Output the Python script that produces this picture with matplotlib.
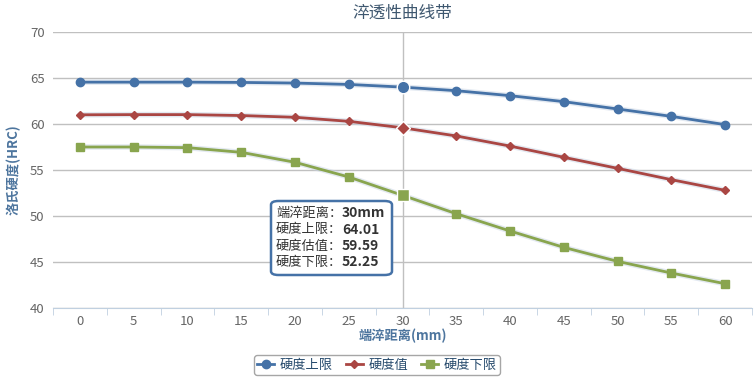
import numpy as np
import matplotlib.pyplot as plt
from matplotlib.patches import FancyBboxPatch
from matplotlib.lines import Line2D

plt.rcParams['font.family'] = ['Noto Sans CJK SC', 'DejaVu Sans']

# données
dist = [0, 5, 10, 15, 20, 25, 30, 35, 40, 45, 50, 55, 60]
haut = [64.55, 64.55, 64.55, 64.52, 64.45, 64.3, 64.01, 63.62, 63.08, 62.43, 61.63, 60.83, 59.93]
moyen = [61.0, 61.02, 61.02, 60.92, 60.73, 60.29, 59.59, 58.7, 57.6, 56.38, 55.18, 53.95, 52.79]
bas = [57.5, 57.5, 57.43, 56.92, 55.84, 54.24, 52.25, 50.25, 48.37, 46.59, 45.07, 43.8, 42.64]
noms = ['硬度上限', '硬度值', '硬度下限']
couleurs = ['#4572A7', '#AA4643', '#89A54E']
marqueurs = ['o', 'D', 's']
tailles = [6, 4, 6]
i_survol = 6

W, H = 754, 379
fig = plt.figure(figsize=(W / 100, H / 100), dpi=100)
ax = fig.add_axes([53 / W, 1 - 308 / H, 699 / W, 276 / H])

x = np.array(dist)
for y, c, m, s, n in zip([haut, moyen, bas], couleurs, marqueurs, tailles, noms):
    ax.plot(x, y, color='#c8d4e4', lw=4, alpha=0.5, zorder=2, solid_capstyle='round')
    ax.plot(x, y, color=c, lw=2, marker=m, ms=s, mec=c, zorder=3, label=n)
    ax.plot(x[i_survol], y[i_survol], marker=m, ms=s + 3, color=c, mec='white', mew=1, zorder=4)

# ligne verticale au survol
ax.axvline(x[i_survol], color='#c0c0c0', lw=1, zorder=1)

ax.set_xlim(-2.5, 62.5)
ax.set_ylim(40, 70)
ax.set_yticks(np.arange(40, 71, 5))
ax.set_xticks(dist)
ax.set_xticks(np.arange(-2.5, 63, 5), minor=True)
ax.grid(axis='y', color='#c0c0c0', lw=1)
ax.set_axisbelow(True)
for cote in ['top', 'right', 'left']:
    ax.spines[cote].set_visible(False)
ax.spines['bottom'].set_color('#c0d0e0')
ax.tick_params(axis='x', which='major', length=0, pad=5, labelsize=9.5, colors='#666666')
ax.tick_params(axis='x', which='minor', length=5, color='#c0d0e0', direction='out')
ax.tick_params(axis='y', length=0, pad=6, labelsize=9.5, colors='#666666')

ax.set_xlabel('端淬距离(mm)', fontsize=9.5, fontweight='bold', color='#4d759e')
ax.xaxis.set_label_coords(0.5, -0.101)
ax.xaxis.label.set_va('center')
ax.set_ylabel('洛氏硬度(HRC)', fontsize=9.5, fontweight='bold', color='#4d759e')
ax.yaxis.set_label_coords(-0.056, 0.5)
ax.yaxis.label.set_va('center')
fig.text(402 / W, 1 - 13 / H, '淬透性曲线带', ha='center', va='center', fontsize=12, color='#3e576f')

# info-bulle
bx0, by0, bx1, by1 = 271, 201, 392, 275
boite = FancyBboxPatch((bx0 / W, 1 - by1 / H), (bx1 - bx0) / W, (by1 - by0) / H,
                       boxstyle='round,pad=0,rounding_size=0.01', transform=fig.transFigure,
                       fc='white', ec='#4572A7', lw=1.8, zorder=10)
fig.patches.append(boite)
etiquettes = ['端淬距离：', '硬度上限：', '硬度估值：', '硬度下限：']
valeurs = ['%dmm' % dist[i_survol], '%.2f' % haut[i_survol], '%.2f' % moyen[i_survol], '%.2f' % bas[i_survol]]
for k in range(4):
    yy = 1 - (213 + k * 16.5) / H
    fig.text(276 / W, yy, etiquettes[k], ha='left', va='center', fontsize=9.5, color='#333333', zorder=11)
    fig.text(342 / W, yy, valeurs[k], ha='left', va='center', fontsize=10, fontweight='bold',
             color='#333333', zorder=11)

# légende
poignees = [Line2D([], [], color=c, lw=2, marker=m, ms=s) for c, m, s in zip(couleurs, marqueurs, tailles)]
leg = fig.legend(poignees, noms, loc='center', bbox_to_anchor=(377 / W, 1 - 365 / H), ncol=3,
                 fontsize=9.5, frameon=True, fancybox=True, edgecolor='#909090', handlelength=1.3,
                 columnspacing=1.0, handletextpad=0.4, borderpad=0.25)
leg.get_frame().set_linewidth(1)
for t in leg.get_texts():
    t.set_color('#274b6d')

fig.savefig('out.png', dpi=100)
